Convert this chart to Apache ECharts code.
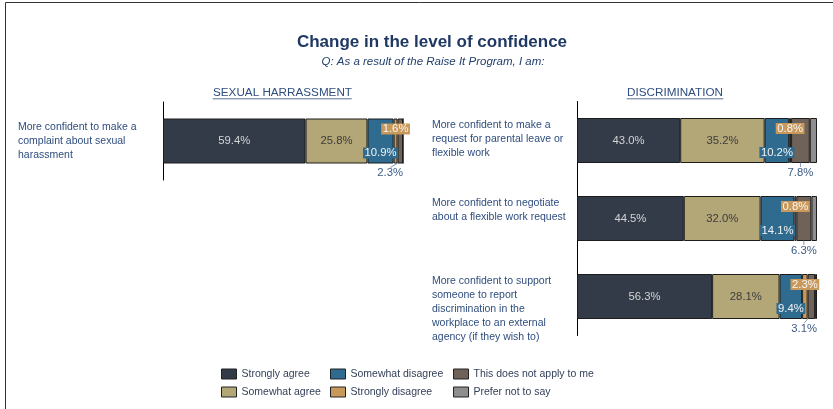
<!DOCTYPE html>
<html>
<head>
<meta charset="utf-8">
<script src="https://cdn.jsdelivr.net/npm/echarts@6/dist/echarts.min.js"></script>
<style>
html,body{margin:0;padding:0;background:#fff;}
#main{width:833px;height:409px;}
</style>
</head>
<body>
<div id="main"></div>
<script>
// ---- data ----
const responseNames = ['Strongly agree','Somewhat agree','Somewhat disagree','Strongly disagree','This does not apply to me','Prefer not to say'];
const shCategories = ['More confident to make a\ncomplaint about sexual\nharassment'];
const discCategories = [
  'More confident to make a\nrequest for parental leave or\nflexible work',
  'More confident to negotiate\nabout a flexible work request',
  'More confident to support\nsomeone to report\ndiscrimination in the\nworkplace to an external\nagency (if they wish to)'
];
const shStronglyAgree = [59.4];
const shSomewhatAgree = [25.8];
const shSomewhatDisagree = [10.9];
const shStronglyDisagree = [1.6];
const shNotApply = [2.3];
const shPreferNot = [0.0];
const dStronglyAgree = [43.0, 44.5, 56.3];
const dSomewhatAgree = [35.2, 32.0, 28.1];
const dSomewhatDisagree = [10.2, 14.1, 9.4];
const dStronglyDisagree = [0.8, 0.8, 2.3];
const dNotApply = [7.8, 6.3, 3.1];
const dPreferNot = [3.0, 2.3, 0.8];

// ---- styles ----
const colors = ['#333b49','#b3a677','#2f6b8f','#c9995b','#6e6259','#8e8e8e'];
const FONT = '"Liberation Sans", Arial, sans-serif';
const G0 = {left:163, top:102, width:240, height:78};
const G1 = {left:577, top:101.5, width:240, height:234};
const fmt = p => p.value.toFixed(1) + '%';

function labelFor(idx, plotRight){
  const base = {show:true, formatter:fmt, fontSize:11.3, fontFamily:FONT};
  if (idx === 0) return {label:Object.assign(base,{position:'inside', color:'#d4d4d4'})};
  if (idx === 1) return {label:Object.assign(base,{position:'inside', color:'#3c3c3c'})};
  if (idx === 2) return {label:Object.assign(base,{position:'insideBottom', distance:5, color:'#f2f2f2', backgroundColor:colors[2], padding:[0,1.5,0,1.5], lineHeight:11})};
  if (idx === 3) return {label:Object.assign(base,{position:'insideTop', distance:5, color:'#f6f6f6', backgroundColor:colors[3], padding:[0,1.5,0,1.5], lineHeight:11})};
  if (idx === 4) return {
    label:Object.assign(base,{position:'bottom', color:'#3c5a85'}),
    labelLine:{show:true, showAbove:true, length2:0, lineStyle:{color:'#6a7fa0', width:0.8}},
    labelLayout:function(params){
      const r = params.rect, lr = params.labelRect;
      let cx = r.x + r.width/2;
      if (cx + lr.width/2 > plotRight) cx = plotRight - lr.width/2;
      return {x:cx, y:r.y + r.height + 9.5, align:'center', verticalAlign:'middle'};
    }
  };
  return {label:{show:false}};
}

const shData = [shStronglyAgree, shSomewhatAgree, shSomewhatDisagree, shStronglyDisagree, shNotApply, shPreferNot];
const dData = [dStronglyAgree, dSomewhatAgree, dSomewhatDisagree, dStronglyDisagree, dNotApply, dPreferNot];

const series = [];
shData.forEach((arr, i) => {
  series.push(Object.assign({
    name:responseNames[i], type:'bar', stack:'sh', xAxisIndex:0, yAxisIndex:0,
    data:arr, barWidth:45,
    itemStyle:{color:colors[i], borderColor:'#1c1c1c', borderWidth:1},
    emphasis:{disabled:true}
  }, labelFor(i, G0.left + G0.width)));
});
dData.forEach((arr, i) => {
  series.push(Object.assign({
    name:responseNames[i], type:'bar', stack:'disc', xAxisIndex:1, yAxisIndex:1,
    data:arr, barWidth:45,
    itemStyle:{color:colors[i], borderColor:'#1c1c1c', borderWidth:1},
    emphasis:{disabled:true}
  }, labelFor(i, G1.left + G1.width)));
});

const legendCommon = {
  orient:'vertical', icon:'rect', itemWidth:15, itemHeight:10, itemGap:7, selectedMode:false,
  textStyle:{fontSize:10.5, color:'#333f57', fontFamily:FONT},
  itemStyle:{borderColor:'#222', borderWidth:1}
};

const catLabel = {
  align:'left', margin:145, fontSize:10.5, lineHeight:14, color:'#2f4d7e', fontFamily:FONT
};

const option = {
  animation:false,
  textStyle:{fontFamily:FONT},
  grid:[
    Object.assign({outerBoundsMode:'none', containLabel:false}, G0),
    Object.assign({outerBoundsMode:'none', containLabel:false}, G1)
  ],
  xAxis:[
    {type:'value', gridIndex:0, min:0, max:100, show:false},
    {type:'value', gridIndex:1, min:0, max:100, show:false}
  ],
  yAxis:[
    {type:'category', gridIndex:0, data:shCategories, inverse:true,
     axisLine:{show:true, lineStyle:{color:'#000', width:1}}, axisTick:{show:false},
     axisLabel:Object.assign({verticalAlign:'middle'}, catLabel)},
    {type:'category', gridIndex:1, data:discCategories, inverse:true,
     axisLine:{show:true, lineStyle:{color:'#000', width:1}}, axisTick:{show:false},
     axisLabel:Object.assign({verticalAlign:'top', padding:[-22,0,0,0]}, catLabel)}
  ],
  legend:[
    Object.assign({data:['Strongly agree','Somewhat agree'], left:216, top:363.5}, legendCommon),
    Object.assign({data:['Somewhat disagree','Strongly disagree'], left:325, top:363.5}, legendCommon),
    Object.assign({data:['This does not apply to me','Prefer not to say'], left:448, top:363.5}, legendCommon)
  ],
  graphic:[
    {type:'polyline', shape:{points:[[5.5,420],[5.5,2.5],[833,2.5]]}, style:{fill:'none', stroke:'#333', lineWidth:1}, silent:true},
    {type:'text', x:432, y:42.5, style:{text:'Change in the level of confidence', fill:'#1f3864', font:'bold 17px ' + FONT, align:'center', verticalAlign:'middle', textAlign:'center', textVerticalAlign:'middle'}},
    {type:'text', x:433, y:62, style:{text:'Q: As a result of the Raise It Program, I am:', fill:'#24406e', font:'italic 11.5px ' + FONT, align:'center', verticalAlign:'middle', textAlign:'center', textVerticalAlign:'middle'}},
    {type:'text', x:282.5, y:93, style:{text:'SEXUAL HARRASSMENT', fill:'#2f4d7e', font:'11.7px ' + FONT, align:'center', verticalAlign:'middle', textAlign:'center', textVerticalAlign:'middle'}},
    {type:'line', shape:{x1:212.7, y1:98.8, x2:351.7, y2:98.8}, style:{stroke:'#2f4d7e', lineWidth:0.8}},
    {type:'text', x:675, y:93, style:{text:'DISCRIMINATION', fill:'#2f4d7e', font:'11.7px ' + FONT, align:'center', verticalAlign:'middle', textAlign:'center', textVerticalAlign:'middle'}},
    {type:'line', shape:{x1:626.7, y1:98.8, x2:723.3, y2:98.8}, style:{stroke:'#2f4d7e', lineWidth:0.8}}
  ],
  series:series
};

const chart = echarts.init(document.getElementById('main'), null, {renderer:'canvas'});
chart.setOption(option);
</script>
</body>
</html>
